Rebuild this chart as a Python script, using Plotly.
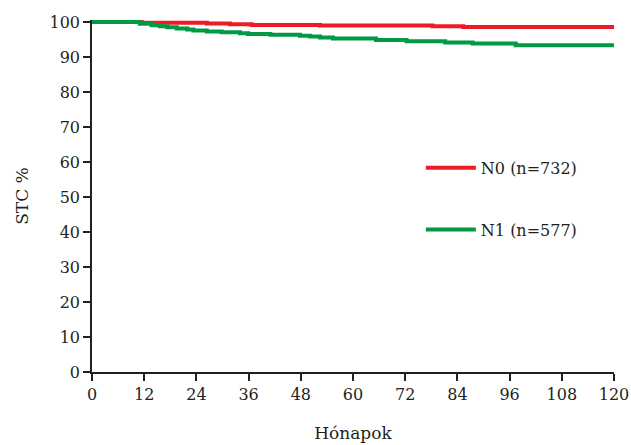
import plotly.graph_objects as go

# Data
n0_months = [0, 11.4, 26.4, 31.7, 36.7, 52.4, 78.3, 85.3, 120]
n0_stc = [100, 99.8, 99.6, 99.4, 99.2, 99.0, 98.8, 98.6, 98.6]

n1_months = [0, 11, 13.7, 15.6, 17.3, 19.5, 21.9, 23.3, 26.4, 29.8, 34, 35.9,
             41, 47.8, 50.1, 52.4, 55.4, 65.3, 72.3, 81.2, 87.5, 97.4, 120]
n1_stc = [100, 99.5, 99.1, 98.8, 98.5, 98.2, 97.9, 97.6, 97.3, 97.1, 96.8, 96.6,
          96.4, 96.1, 95.9, 95.6, 95.3, 94.9, 94.5, 94.2, 93.9, 93.4, 93.4]

x_ticks = [0, 12, 24, 36, 48, 60, 72, 84, 96, 108, 120]
y_ticks = [0, 10, 20, 30, 40, 50, 60, 70, 80, 90, 100]

font_family = "DejaVu Serif, serif"
axis_color = "#231f20"

fig = go.Figure()
fig.add_trace(go.Scatter(x=n0_months, y=n0_stc, mode="lines", line_shape="hv",
                         line=dict(color="#ed1c24", width=4), name="N0 (n=732)",
                         legendgroup="a"))
fig.add_trace(go.Scatter(x=n1_months, y=n1_stc, mode="lines", line_shape="hv",
                         line=dict(color="#009a44", width=4), name="N1 (n=577)",
                         legendgroup="b"))

fig.update_layout(
    width=631, height=445,
    margin=dict(l=92, r=17, t=20, b=73, autoexpand=False),
    paper_bgcolor="white", plot_bgcolor="white",
    font=dict(family=font_family, size=16, color=axis_color),
    legend=dict(x=0.63, y=0.492, xanchor="left", yanchor="middle",
                tracegroupgap=38, font=dict(size=16), bgcolor="rgba(0,0,0,0)",
                itemwidth=50),
    xaxis=dict(range=[0, 120], tickvals=x_ticks, ticks="outside", ticklen=7,
               tickwidth=1.5, tickcolor=axis_color, showline=True, linecolor=axis_color,
               linewidth=1.5, showgrid=False, zeroline=False, automargin=False,
               title=dict(text="Hónapok", standoff=24, font=dict(size=17))),
    yaxis=dict(range=[0, 100.6], tickvals=y_ticks, ticks="outside", ticklen=7,
               tickwidth=1.5, tickcolor=axis_color, showline=True, linecolor=axis_color,
               linewidth=1.5, showgrid=False, zeroline=False, automargin=False,
               title=dict(text="STC %", standoff=17, font=dict(size=17))),
)

fig.write_html("out.html", config={"displayModeBar": False},
               post_script="document.body.style.margin='0';document.body.style.overflow='hidden';")
